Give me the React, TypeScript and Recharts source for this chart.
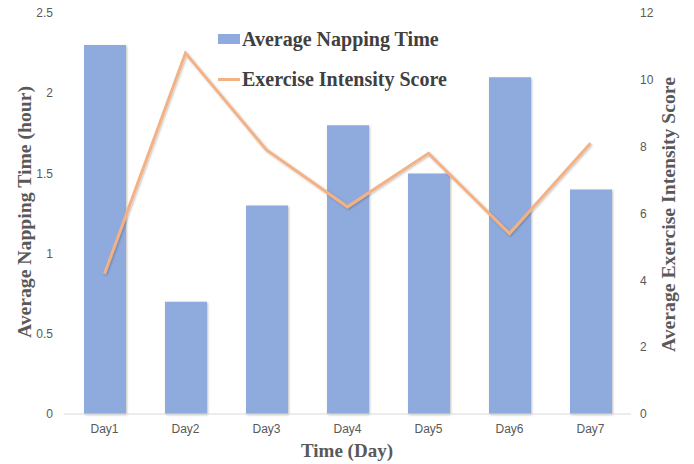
import React from "react";
import { ComposedChart, Bar, Line, XAxis, YAxis } from "recharts";

const days = ["Day1", "Day2", "Day3", "Day4", "Day5", "Day6", "Day7"];
const nappingHours = [2.3, 0.7, 1.3, 1.8, 1.5, 2.1, 1.4];
const exerciseScores = [4.2, 10.8, 7.9, 6.2, 7.8, 5.4, 8.1];
const leftTicks = [0, 0.5, 1, 1.5, 2, 2.5];
const rightTicks = [0, 2, 4, 6, 8, 10, 12];

const data = days.map((day, i) => ({
  day,
  nap: nappingHours[i],
  score: exerciseScores[i],
}));

const BAR_COLOR = "#8FAADC";
const LINE_COLOR = "#F4B183";
const TITLE_FONT = "'Liberation Serif', 'Times New Roman', serif";
const TICK_FONT = "'Liberation Sans Narrow', 'Liberation Sans', Arial, sans-serif";
const TICK_STYLE = { fontSize: 12, fill: "#595959", fontFamily: TICK_FONT };

const SeriesLegend = () => (
  <div
    style={{
      position: "absolute",
      left: 218,
      top: 27,
      fontFamily: TITLE_FONT,
      fontWeight: "bold",
      fontSize: 20,
      color: "#404040",
      pointerEvents: "none",
    }}
  >
    <div style={{ display: "flex", alignItems: "center", height: 24 }}>
      <span style={{ display: "inline-block", width: 22, height: 10, background: BAR_COLOR, marginRight: 2 }} />
      Average Napping Time
    </div>
    <div style={{ display: "flex", alignItems: "center", height: 24, marginTop: 16 }}>
      <span style={{ display: "inline-block", width: 22, height: 3, background: LINE_COLOR, marginRight: 2 }} />
      Exercise Intensity Score
    </div>
  </div>
);

export default function App() {
  return (
    <div style={{ width: 694, height: 464, position: "relative", background: "#fff" }}>
      <style>{`body{margin:0;}`}</style>
      <ComposedChart
        width={694}
        height={464}
        data={data}
        margin={{ top: 13, right: 0, bottom: 20, left: 0 }}
      >
        <defs>
          <filter id="softShadow" x="-20%" y="-20%" width="140%" height="140%">
            <feDropShadow dx="1" dy="1" stdDeviation="1" floodColor="#000" floodOpacity="0.25" />
          </filter>
        </defs>
        <XAxis
          dataKey="day"
          height={30}
          axisLine={{ stroke: "#D9D9D9", strokeWidth: 1 }}
          tickLine={false}
          tick={TICK_STYLE}
          tickMargin={4}
          interval={0}
        />
        <YAxis
          yAxisId="left"
          width={64}
          domain={[0, 2.5]}
          ticks={leftTicks}
          axisLine={false}
          tickLine={false}
          tick={TICK_STYLE}
          tickMargin={5}
          interval={0}
        />
        <YAxis
          yAxisId="right"
          orientation="right"
          width={63}
          domain={[0, 12]}
          ticks={rightTicks}
          axisLine={false}
          tickLine={false}
          tick={{ ...TICK_STYLE, textAnchor: "start" }}
          tickMargin={3}
          interval={0}
        />
        <Bar
          yAxisId="left"
          dataKey="nap"
          fill={BAR_COLOR}
          barSize={42}
          filter="url(#softShadow)"
          isAnimationActive={false}
        />
        <Line
          yAxisId="right"
          dataKey="score"
          stroke={LINE_COLOR}
          strokeWidth={3}
          dot={false}
          activeDot={false}
          type="linear"
          filter="url(#softShadow)"
          isAnimationActive={false}
        />
        <text
          x={23.5}
          y={212}
          transform="rotate(-90 23.5 212)"
          textAnchor="middle"
          dominantBaseline="central"
          style={{ fontFamily: TITLE_FONT, fontWeight: "bold", fontSize: 19.7, fill: "#595959" }}
        >
          Average Napping Time (hour)
        </text>
        <text
          x={668}
          y={214.5}
          transform="rotate(-90 668 214.5)"
          textAnchor="middle"
          dominantBaseline="central"
          style={{ fontFamily: TITLE_FONT, fontWeight: "bold", fontSize: 19.7, fill: "#595959" }}
        >
          Average Exercise Intensity Score
        </text>
        <text
          x={347}
          y={450}
          textAnchor="middle"
          dominantBaseline="central"
          style={{ fontFamily: TITLE_FONT, fontWeight: "bold", fontSize: 19, fill: "#595959" }}
        >
          Time (Day)
        </text>
      </ComposedChart>
      <SeriesLegend />
    </div>
  );
}
